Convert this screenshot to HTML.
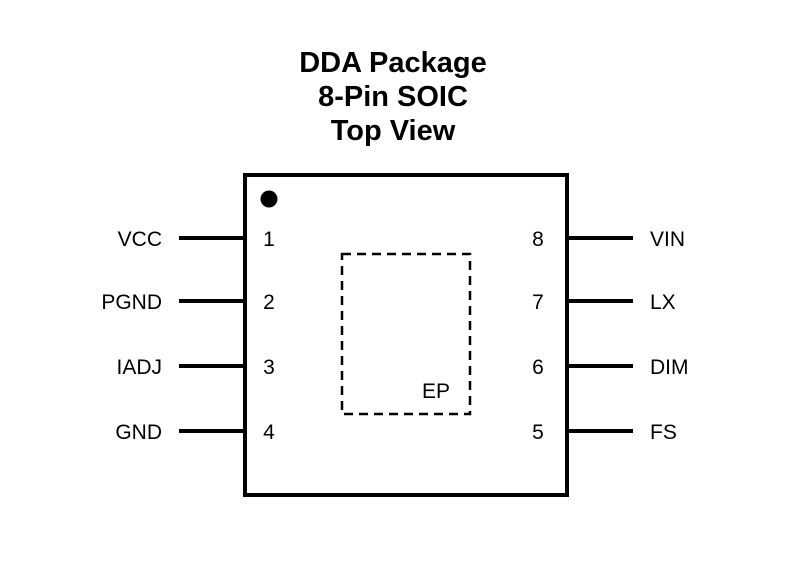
<!DOCTYPE html>
<html><head><meta charset="utf-8"><style>body{margin:0;background:#fff}</style></head><body>
<svg width="810" height="578" xmlns="http://www.w3.org/2000/svg" style="display:block">
<rect width="810" height="578" fill="#fff"/>
<g font-family="Liberation Sans, sans-serif" font-weight="bold" font-size="29" text-anchor="middle" fill="#000">
<text x="393" y="72">DDA Package</text>
<text x="393" y="106">8-Pin SOIC</text>
<text x="393" y="140">Top View</text>
</g>
<rect x="245" y="175" width="322" height="320" fill="none" stroke="#000" stroke-width="4"/>
<circle cx="269" cy="199" r="8.5" fill="#000"/>
<rect x="342" y="254" width="128" height="160" fill="none" stroke="#000" stroke-width="2.5" stroke-dasharray="9,6"/>
<g stroke="#000" stroke-width="4">
<line x1="179" y1="238" x2="245" y2="238"/><line x1="179" y1="301" x2="245" y2="301"/>
<line x1="179" y1="366" x2="245" y2="366"/><line x1="179" y1="431" x2="245" y2="431"/>
<line x1="567" y1="238" x2="633" y2="238"/><line x1="567" y1="301" x2="633" y2="301"/>
<line x1="567" y1="366" x2="633" y2="366"/><line x1="567" y1="431" x2="633" y2="431"/>
</g>
<g font-family="Liberation Sans, sans-serif" font-size="21" fill="#000">
<g text-anchor="end">
<text x="162" y="246">VCC</text><text x="162" y="309">PGND</text>
<text x="162" y="374">IADJ</text><text x="162" y="439">GND</text>
</g>
<g text-anchor="middle">
<text x="269" y="246">1</text><text x="269" y="309">2</text><text x="269" y="374">3</text><text x="269" y="439">4</text>
<text x="538" y="246">8</text><text x="538" y="309">7</text><text x="538" y="374">6</text><text x="538" y="439">5</text>
<text x="436" y="398">EP</text>
</g>
<text x="650" y="246">VIN</text><text x="650" y="309">LX</text>
<text x="650" y="374">DIM</text><text x="650" y="439">FS</text>
</g>
</svg>
</body></html>
